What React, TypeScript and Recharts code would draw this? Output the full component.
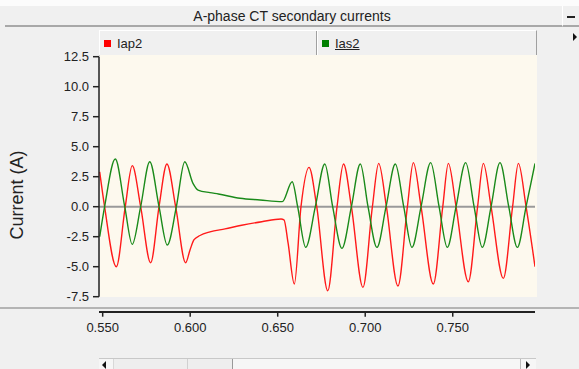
import React from 'react';
import { LineChart, Line, XAxis, YAxis, ReferenceLine } from 'recharts';

// Iap2 (red) – time in s, current in A
const iap2Time = [
  0.5483, 0.5511, 0.5578, 0.5629, 0.5669, 0.5717, 0.5774, 0.5822, 0.5867, 0.5917,
  0.5974, 0.5999, 0.6022, 0.6056, 0.6113, 0.6199, 0.6294, 0.6409, 0.6519, 0.6536,
  0.6559, 0.6595, 0.6633, 0.6679, 0.6723, 0.6786, 0.6839, 0.6876, 0.6921, 0.6987,
  0.7041, 0.7077, 0.7121, 0.7187, 0.7241, 0.7275, 0.7319, 0.7389, 0.7443, 0.7475,
  0.7519, 0.7589, 0.7642, 0.7675, 0.7719, 0.7789, 0.7842, 0.7875, 0.7919, 0.797,
];
const iap2Current = [
  2.9, 0, -5.0, 0, 3.42, 0, -4.67, 0, 3.56, 0,
  -4.67, -3.6, -2.75, -2.4, -2.1, -1.85, -1.55, -1.25, -1.03, -1.1,
  -3.0, -6.44, 0, 3.28, 0, -7.0, 0, 3.56, 0, -6.72,
  0, 3.61, 0, -6.61, 0, 3.67, 0, -6.44, 0, 3.61,
  0, -6.25, 0, 3.61, 0, -5.97, 0, 3.61, 0, -5.0,
];

// Ias2 (green)
const ias2Time = [
  0.5483, 0.5511, 0.5572, 0.5626, 0.5669, 0.5717, 0.5769, 0.5822, 0.5869, 0.5921,
  0.5969, 0.6016, 0.6045, 0.6113, 0.6161, 0.6285, 0.6399, 0.6526, 0.6583, 0.6614,
  0.666, 0.6715, 0.6769, 0.6814, 0.6867, 0.6921, 0.6972, 0.7016, 0.7067, 0.7119,
  0.7172, 0.722, 0.7267, 0.7319, 0.7374, 0.7422, 0.7469, 0.7519, 0.7574, 0.7622,
  0.7669, 0.7719, 0.777, 0.782, 0.7869, 0.7919, 0.797,
];
const ias2Current = [
  -2.5, 0, 3.97, 0, -3.14, 0, 3.75, 0, -3.19, 0,
  3.75, 1.95, 1.39, 1.17, 1.06, 0.7, 0.56, 0.42, 2.08, 0,
  -3.39, 0, 3.56, 0, -3.47, 0, 3.56, 0, -3.39, 0,
  3.56, 0, -3.39, 0, 3.67, 0, -3.39, 0, 3.67, 0,
  -3.39, 0, 3.67, 0, -3.39, 0, 3.6,
];

const xTicks = [0.55, 0.6, 0.65, 0.7, 0.75];
const yTicks = [-7.5, -5, -2.5, 0, 2.5, 5, 7.5, 10, 12.5];

const iap2Data = iap2Time.map((t, i) => ({ t, v: iap2Current[i] }));
const ias2Data = ias2Time.map((t, i) => ({ t, v: ias2Current[i] }));

const FONT = '"Liberation Sans", Arial, sans-serif';

const XTick = ({ x, y, payload }: any) => (
  <g>
    <line x1={x} x2={x} y1={y + 15} y2={y + 20} stroke="#222" strokeWidth={1.5} />
    <text x={x} y={y + 35} textAnchor="middle" fontSize={13} fill="#222" fontFamily={FONT}>
      {payload.value.toFixed(3)}
    </text>
  </g>
);

const triangle = (dir: 'left' | 'right', size: number) =>
  dir === 'right'
    ? { width: 0, height: 0, borderTop: `${size}px solid transparent`, borderBottom: `${size}px solid transparent`, borderLeft: `${size}px solid #111` }
    : { width: 0, height: 0, borderTop: `${size}px solid transparent`, borderBottom: `${size}px solid transparent`, borderRight: `${size}px solid #111` };

export default function App() {
  return (
    <div style={{ position: 'absolute', left: 0, top: 0, width: 579, height: 369, background: '#f0f0f0', overflow: 'hidden', fontFamily: FONT }}>
      <div style={{ position: 'absolute', left: 0, top: 0, width: 579, height: 6, background: '#fcfcfc' }} />
      {/* title bar */}
      <div style={{ position: 'absolute', left: 5, top: 6, width: 574, height: 19, borderBottom: '2px solid #a8a8a8', textAlign: 'center', lineHeight: '20px', fontSize: 14, color: '#222' }}>
        A-phase CT secondary currents
      </div>
      <div style={{ position: 'absolute', left: 562, top: 6, width: 17, height: 19, borderBottom: '2px solid #a8a8a8', borderLeft: '1px solid #fff', background: '#f0f0f0' }}>
        <div style={{ position: 'absolute', left: 4, top: 10, width: 8, height: 2, background: '#222' }} />
      </div>
      <div style={{ position: 'absolute', left: 573, top: 33, ...triangle('right', 4) }} />

      {/* legend bar */}
      <div style={{ position: 'absolute', left: 99, top: 30, width: 436, height: 24, borderTop: '1px solid #fff', borderLeft: '1px solid #fff', borderBottom: '1px solid #a0a0a0', borderRight: '1px solid #a0a0a0', display: 'flex', fontSize: 13, color: '#222' }}>
        <div style={{ width: 216, borderRight: '1px solid #a0a0a0', display: 'flex', alignItems: 'center' }}>
          <span style={{ width: 7, height: 7, background: '#ff0000', marginLeft: 4, marginRight: 6 }} />
          <span>Iap2</span>
        </div>
        <div style={{ flex: 1, borderLeft: '1px solid #fff', display: 'flex', alignItems: 'center' }}>
          <span style={{ width: 7, height: 7, background: '#008000', marginLeft: 4, marginRight: 6 }} />
          <span style={{ textDecoration: 'underline' }}>Ias2</span>
        </div>
      </div>

      {/* plot background */}
      <div style={{ position: 'absolute', left: 100, top: 55, width: 437, height: 242, background: '#fdf9ee' }} />

      {/* y label */}
      <div style={{ position: 'absolute', left: 17, top: 195, transform: 'translate(-50%, -50%) rotate(-90deg)', fontSize: 18, color: '#222', whiteSpace: 'nowrap' }}>
        Current (A)
      </div>

      {/* separator and x axis line */}
      <div style={{ position: 'absolute', left: 0, top: 307, width: 579, height: 2, background: '#b4b4b4' }} />
      <div style={{ position: 'absolute', left: 99, top: 311, width: 436, height: 1.5, background: '#222' }} />

      <div style={{ position: 'absolute', left: 0, top: 0 }}>
        <LineChart width={579} height={369} margin={{ top: 56.7, right: 44, bottom: 42.3, left: 0 }}>
          <XAxis
            type="number"
            dataKey="t"
            domain={[0.5479, 0.797]}
            ticks={xTicks}
            interval={0}
            allowDataOverflow
            axisLine={false}
            tickLine={false}
            tickSize={0}
            tickMargin={0}
            height={30}
            tick={<XTick />}
          />
          <YAxis
            type="number"
            domain={[-7.5, 12.5]}
            ticks={yTicks}
            interval={0}
            width={99}
            allowDataOverflow
            axisLine={{ stroke: '#222', strokeWidth: 1.5 }}
            tickLine={{ stroke: '#222', strokeWidth: 1.5 }}
            tickSize={6}
            tickMargin={4}
            tick={{ fontSize: 13, fill: '#222', fontFamily: FONT }}
            tickFormatter={(v: number) => v.toFixed(1)}
          />
          <ReferenceLine y={0} stroke="#9a9a9a" strokeWidth={2} />
          <Line data={iap2Data} dataKey="v" type="monotone" stroke="#ff1a1a" strokeWidth={1.4} dot={false} isAnimationActive={false} />
          <Line data={ias2Data} dataKey="v" type="monotone" stroke="#1a8a1a" strokeWidth={1.4} dot={false} isAnimationActive={false} />
        </LineChart>
      </div>

      {/* scrollbar */}
      <div style={{ position: 'absolute', left: 99, top: 358, width: 437, height: 11, borderTop: '1px solid #c8c8c8', background: '#f6f6f6' }}>
        <div style={{ position: 'absolute', left: 3, top: 2, ...triangle('left', 4) }} />
        <div style={{ position: 'absolute', left: 14, top: 0, width: 118, height: 11, borderLeft: '1px solid #d8d8d8', borderRight: '1px solid #999', background: '#eeeeee' }}>
          <div style={{ position: 'absolute', left: 73, top: 0, width: 1, height: 11, background: '#d0d0d0' }} />
        </div>
        <div style={{ position: 'absolute', left: 421, top: 0, width: 1, height: 11, background: '#bbb' }} />
        <div style={{ position: 'absolute', left: 427, top: 2, ...triangle('right', 4) }} />
      </div>
    </div>
  );
}
